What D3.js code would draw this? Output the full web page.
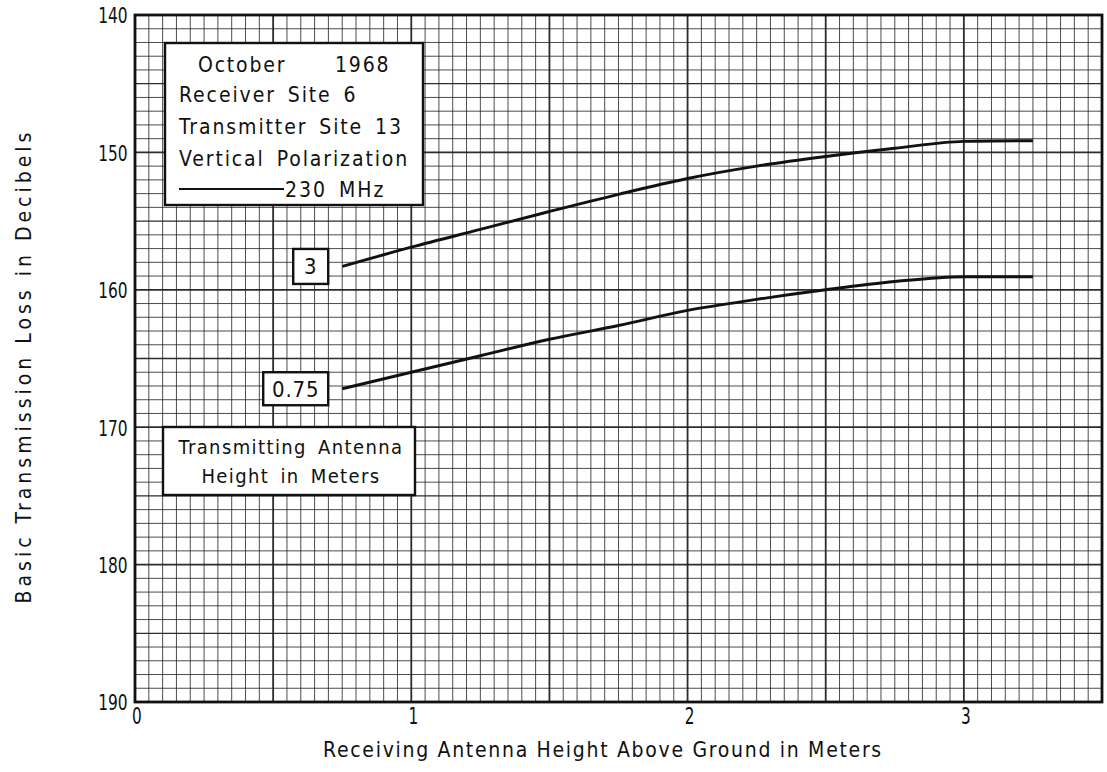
<!DOCTYPE html>
<html>
<head>
<meta charset="utf-8">
<script src="https://cdn.jsdelivr.net/npm/d3@7"></script>
<style>
  html, body { margin: 0; padding: 0; background: #fff; }
  svg { display: block; }
  text { font-family: "DejaVu Sans Condensed", "DejaVu Sans", sans-serif; font-stretch: condensed; fill: #111; }
</style>
</head>
<body>
<svg id="chart" width="1107" height="772"></svg>
<script>
// ---- data ----
const heights = [0.75, 1.0, 1.25, 1.5, 1.75, 2.0, 2.25, 2.5, 2.75, 3.0, 3.25];
const loss3m = [158.3, 156.9, 155.6, 154.3, 153.05, 151.9, 151.0, 150.3, 149.7, 149.2, 149.15];
const loss075m = [167.2, 166.0, 164.8, 163.6, 162.6, 161.5, 160.7, 160.0, 159.4, 159.05, 159.05];
const seriesLabels = ["3", "0.75"];
const xTicks = [0, 1, 2, 3];
const yTicks = [140, 150, 160, 170, 180, 190];
const legendLines = ["Receiver Site 6", "Transmitter Site 13", "Vertical Polarization"];
const legendTitleLeft = "October", legendTitleRight = "1968";
const legendFreq = "230 MHz";
const heightNote = ["Transmitting Antenna", "Height in  Meters"];
const xTitle = "Receiving Antenna Height Above Ground in Meters";
const yTitle = "Basic Transmission Loss in Decibels";

// ---- layout ----
const svg = d3.select("#chart");
const L = 135, T = 15, R = 1102, B = 702;
const x = d3.scaleLinear().domain([0, 3.5]).range([L, R]);
const y = d3.scaleLinear().domain([140, 190]).range([T, B]);

// grid
const g = svg.append("g");
const minorX = d3.range(0, 3.5001, 0.05);
const minorY = d3.range(140, 190.001, 1);
const isHalf = d => Math.abs(d * 2 - Math.round(d * 2)) < 1e-6;
g.selectAll(".vx").data(minorX).enter().append("line")
  .attr("x1", d => x(d)).attr("x2", d => x(d)).attr("y1", T).attr("y2", B)
  .attr("stroke", "#222")
  .attr("stroke-width", d => isHalf(d) ? 1.8 : 1)
  .attr("opacity", d => isHalf(d) ? 0.95 : 0.8);
g.selectAll(".hy").data(minorY).enter().append("line")
  .attr("y1", d => y(d)).attr("y2", d => y(d)).attr("x1", L).attr("x2", R)
  .attr("stroke", "#222")
  .attr("stroke-width", d => Math.round(d) % 10 === 0 ? 1.8 : (Math.round(d) % 5 === 0 ? 1.3 : 1))
  .attr("opacity", d => Math.round(d) % 5 === 0 ? 0.95 : 0.8);

// border
svg.append("rect").attr("x", L).attr("y", T).attr("width", R - L).attr("height", B - T)
  .attr("fill", "none").attr("stroke", "#111").attr("stroke-width", 2.8);

// axes (labels only)
const xAxis = d3.axisBottom(x).tickValues(xTicks).tickSize(0).tickFormat(d3.format("d"));
const xa = svg.append("g").attr("transform", `translate(0,${B + 3})`).call(xAxis);
xa.select(".domain").remove();
xa.selectAll("text").attr("font-family", null)
  .attr("font-size", 23).attr("fill", "#111").attr("transform", "scale(0.74,1)").attr("dx", 2);

const yAxis = d3.axisLeft(y).tickValues(yTicks).tickSize(0).tickFormat(d3.format("d"));
const ya = svg.append("g").attr("transform", `translate(${L - 5},0)`).call(yAxis);
ya.select(".domain").remove();
ya.selectAll("text").attr("font-family", null)
  .attr("font-size", 22).attr("fill", "#111").attr("transform", "scale(0.78,1)").attr("dy", "0.36em");

// axis titles
svg.append("text").attr("x", 603).attr("y", 757).attr("text-anchor", "middle")
  .attr("font-size", 21).attr("letter-spacing", 1.7).text(xTitle);
svg.append("text").attr("transform", "translate(31,366) rotate(-90)")
  .attr("text-anchor", "middle").attr("font-size", 21).attr("letter-spacing", 4.0).text(yTitle);

// curves
const line = d3.line().x(d => x(d[0])).y(d => y(d[1])).curve(d3.curveMonotoneX);
const series = [loss3m, loss075m];
series.forEach(vals => {
  svg.append("path").datum(heights.map((h, i) => [h, vals[i]]))
    .attr("d", line).attr("fill", "none").attr("stroke", "#111").attr("stroke-width", 2.9);
});

// curve label boxes
series.forEach((vals, i) => {
  const cy = y(vals[0]);
  const xr = x(heights[0]) - 14;
  const w = seriesLabels[i].length > 1 ? 65 : 35;
  const h = i === 0 ? 35 : 33;
  svg.append("rect").attr("x", xr - w).attr("y", cy - h / 2).attr("width", w).attr("height", h)
    .attr("fill", "#fff").attr("stroke", "#111").attr("stroke-width", 2.4);
  svg.append("text").attr("x", xr - w / 2).attr("y", cy + 8).attr("text-anchor", "middle")
    .attr("font-size", 22).attr("letter-spacing", 0.8).text(seriesLabels[i]);
});

// legend box
const lg = svg.append("g");
lg.append("rect").attr("x", 165).attr("y", 43).attr("width", 258).attr("height", 162)
  .attr("fill", "#fff").attr("stroke", "#111").attr("stroke-width", 2.4);
lg.append("text").attr("x", 198).attr("y", 72).attr("font-size", 21).attr("letter-spacing", 1.8).text(legendTitleLeft);
lg.append("text").attr("x", 335).attr("y", 72).attr("font-size", 21).attr("letter-spacing", 1.8).text(legendTitleRight);
legendLines.forEach((t, i) => {
  lg.append("text").attr("x", 179).attr("y", 102 + i * 32).attr("font-size", 21)
    .attr("letter-spacing", 1.9).attr("word-spacing", 4).text(t);
});
lg.append("line").attr("x1", 179).attr("x2", 284).attr("y1", 189).attr("y2", 189)
  .attr("stroke", "#111").attr("stroke-width", 2.2);
lg.append("text").attr("x", 285).attr("y", 197).attr("font-size", 21).attr("letter-spacing", 2)
  .attr("word-spacing", 4).text(legendFreq);

// transmitting antenna note
const ng = svg.append("g");
ng.append("rect").attr("x", 163).attr("y", 427).attr("width", 252).attr("height", 68)
  .attr("fill", "#fff").attr("stroke", "#111").attr("stroke-width", 2.4);
heightNote.forEach((t, i) => {
  ng.append("text").attr("x", 291).attr("y", 454 + i * 29).attr("text-anchor", "middle")
    .attr("font-size", 20).attr("letter-spacing", 1.4).attr("word-spacing", 4).text(t);
});
</script>
</body>
</html>
